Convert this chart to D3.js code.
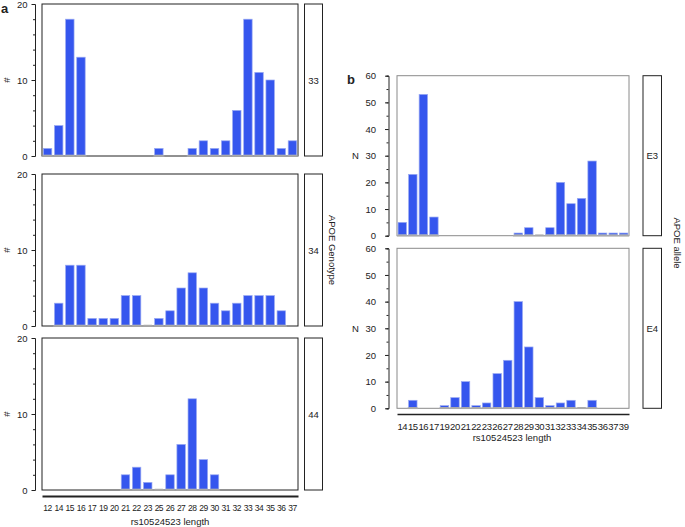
<!DOCTYPE html>
<html><head><meta charset="utf-8">
<script src="https://cdn.jsdelivr.net/npm/d3@7"></script>
<style>body{margin:0;background:#fff}text{font-family:"Liberation Sans",Arial,sans-serif;fill:#222}</style>
</head><body><svg id="c" width="685" height="527"></svg>
<script>
// ---- data ----
const catsA = [12,14,15,16,17,19,20,21,22,23,25,26,27,28,29,30,31,32,33,34,35,36,37];
const genotypes = ["33","34","44"];
const g33 = [1,4,18,13,null,null,null,null,null,null,1,null,null,1,2,1,2,6,18,11,10,1,2];
const g34 = [null,3,8,8,1,1,1,4,4,0,1,2,5,7,5,3,2,3,4,4,4,2,null];
const g44 = [null,null,null,null,null,null,null,2,3,1,0,2,6,12,4,2,null,null,null,null,null,null,null];
const yTicksA = [0,10,20];

const catsB = [14,15,16,17,19,20,21,22,23,26,27,28,29,30,31,32,33,34,35,36,37,39];
const alleles = ["E3","E4"];
const e3 = [5,23,53,7,null,null,null,null,null,null,null,1,3,0,3,20,12,14,28,1,1,1];
const e4 = [null,3,null,null,1,4,10,1,2,13,18,40,23,4,1,2,3,0,3,null,null,null];
const yTicksB = [0,10,20,30,40,50,60];

const svg = d3.select("#c");
const BAR = "#3556ee", BAR_EDGE = "#9aaaf2", BASE = "#a9a9a9";
const FF = '"Liberation Sans",Arial,sans-serif';

function panel(cfg) {
  const {cats, vals, x0, x1, yTop, yBot, ymax, ticks, minorStep, axisX, yLabel, yLabelRot, yLabelX, frameColor, strip, stripX0, stripX1, pad} = cfg;
  const x = d3.scaleBand().domain(cats).range([x0, x1]).paddingInner(pad).paddingOuter(pad/2);
  const y = d3.scaleLinear().domain([0, ymax]).range([yBot, yTop]);
  const g = svg.append("g");
  g.append("rect").attr("x", x0).attr("y", yTop).attr("width", x1 - x0).attr("height", yBot - yTop)
    .attr("fill", "none").attr("stroke", frameColor).attr("stroke-width", 1);
  const minor = d3.range(0, ymax + 0.001, minorStep);
  const ax = d3.axisLeft(y).tickValues(minor).tickSize(2).tickFormat("");
  const ga = g.append("g").attr("transform", `translate(${axisX},0)`).call(ax);
  ga.select(".domain").attr("stroke", "#222");
  ga.selectAll(".tick line").attr("stroke", "#222");
  const ax2 = d3.axisLeft(y).tickValues(ticks).tickSize(3.5).tickPadding(cfg.tickPad);
  const gb = g.append("g").attr("transform", `translate(${axisX},0)`).call(ax2);
  gb.select(".domain").remove();
  gb.selectAll(".tick line").attr("stroke", "#222");
  gb.selectAll(".tick text").attr("font-size", 9.5).attr("font-family", FF).attr("fill", "#222");
  const ym = (yTop + yBot) / 2;
  const t = g.append("text").attr("x", yLabelX).attr("y", ym).attr("font-size", 9.5)
    .attr("text-anchor", "middle").attr("dominant-baseline", "central").text(yLabel);
  if (yLabelRot) t.attr("transform", `rotate(-90,${yLabelX},${ym})`);
  const data = cats.map((c, i) => ({c, v: vals[i]})).filter(d => d.v !== null);
  g.selectAll(".base").data(data).enter().append("line")
    .attr("x1", d => x(d.c) - x.step() * pad / 2).attr("x2", d => x(d.c) + x.bandwidth() + x.step() * pad / 2)
    .attr("y1", yBot).attr("y2", yBot).attr("stroke", BASE).attr("stroke-width", 1.5);
  g.selectAll(".bar").data(data.filter(d => d.v > 0)).enter().append("rect")
    .attr("x", d => x(d.c)).attr("width", x.bandwidth())
    .attr("y", d => y(d.v)).attr("height", d => y(0) - y(d.v) - 0.8)
    .attr("fill", BAR).attr("stroke", BAR_EDGE).attr("stroke-width", 0.7);
  g.selectAll(".bbase").data(data).enter().append("line")
    .attr("x1", d => x(d.c)).attr("x2", d => x(d.c) + x.bandwidth())
    .attr("y1", yBot - 0.5).attr("y2", yBot - 0.5).attr("stroke", BASE).attr("stroke-width", 1.5);
  g.append("rect").attr("x", stripX0).attr("y", yTop).attr("width", stripX1 - stripX0).attr("height", yBot - yTop)
    .attr("fill", "none").attr("stroke", "#222").attr("stroke-width", 1);
  g.append("text").attr("x", (stripX0 + stripX1) / 2).attr("y", ym).attr("font-size", 9.5)
    .attr("text-anchor", "middle").attr("dominant-baseline", "central").text(strip);
  return x;
}

// ---- panel a ----
const aTops = [4, 174, 338];
const aVals = [g33, g34, g44];
let xa;
genotypes.forEach((gname, i) => {
  xa = panel({cats: catsA, vals: aVals[i], x0: 42, x1: 298, yTop: aTops[i], yBot: aTops[i] + 152,
    ymax: 20, ticks: yTicksA, minorStep: 2, axisX: 35, tickPad: 4, yLabel: "#", yLabelRot: true, yLabelX: 6,
    frameColor: "#222", strip: gname, stripX0: 304.5, stripX1: 322.5, pad: 0.24});
});
const axA = d3.axisBottom(xa).tickSize(0).tickPadding(9);
const gxa = svg.append("g").attr("transform", "translate(0,496)").call(axA);
gxa.select(".domain").attr("stroke", "#222").attr("stroke-width", 2);
gxa.selectAll(".tick text").attr("font-size", 8.5).attr("letter-spacing", -0.5).attr("font-family", FF).attr("fill", "#222");
svg.append("text").attr("x", 170).attr("y", 525).attr("font-size", 9.5).attr("text-anchor", "middle").text("rs10524523 length");
svg.append("text").attr("x", 1).attr("y", 13).attr("font-size", 13).attr("font-weight", "bold").text("a");
svg.append("text").attr("font-size", 9.5).attr("text-anchor", "middle").attr("dominant-baseline", "central")
  .attr("transform", "translate(332,250) rotate(90)").text("APOE Genotype");

// ---- panel b ----
const bTops = [75.7, 248.3];
const bVals = [e3, e4];
let xb;
alleles.forEach((aname, i) => {
  xb = panel({cats: catsB, vals: bVals[i], x0: 397, x1: 629, yTop: bTops[i], yBot: bTops[i] + 160,
    ymax: 60, ticks: yTicksB, minorStep: 5, axisX: 388.5, tickPad: 9, yLabel: "N", yLabelRot: false, yLabelX: 355.5,
    frameColor: "#8a8a8a", strip: aname, stripX0: 643, stripX1: 661.5, pad: 0.2});
});
const axB = d3.axisBottom(xb).tickSize(0).tickPadding(9);
const gxb = svg.append("g").attr("transform", "translate(0,414)").call(axB);
gxb.select(".domain").attr("stroke", "#222").attr("stroke-width", 1.5);
gxb.selectAll(".tick text").attr("font-size", 9.5).attr("letter-spacing", -0.4).attr("font-family", FF).attr("fill", "#222");
svg.append("text").attr("x", 512).attr("y", 441).attr("font-size", 9.5).attr("text-anchor", "middle").text("rs10524523 length");
svg.append("text").attr("x", 347).attr("y", 84).attr("font-size", 13).attr("font-weight", "bold").text("b");
svg.append("text").attr("font-size", 9.5).attr("text-anchor", "middle").attr("dominant-baseline", "central")
  .attr("transform", "translate(677,243) rotate(90)").text("APOE allele");
</script></body></html>
